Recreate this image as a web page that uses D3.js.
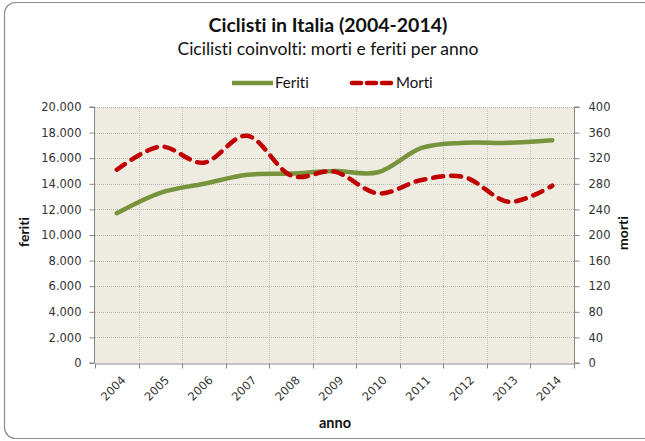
<!DOCTYPE html>
<html>
<head>
<meta charset="utf-8">
<script src="https://cdn.jsdelivr.net/npm/d3@7"></script>
<style>
  body { margin: 0; background: #fff; }
  svg { display: block; }
  text { font-variant-ligatures: none; font-feature-settings: "liga" 0; }
</style>
</head>
<body>
<div id="chart"></div>
<script>
// dati
var anni = ["2004", "2005", "2006", "2007", "2008", "2009", "2010", "2011", "2012", "2013", "2014"];
var feriti = [11700, 13300, 14000, 14700, 14800, 15000, 14900, 16800, 17200, 17200, 17400];
var morti = [302, 338, 313, 355, 293, 299, 265, 286, 290, 252, 277];
var ticksFeriti = [0, 2000, 4000, 6000, 8000, 10000, 12000, 14000, 16000, 18000, 20000];
var ticksMorti = [0, 40, 80, 120, 160, 200, 240, 280, 320, 360, 400];

var W = 645, H = 441;
var plot = { left: 95, right: 574, top: 107, bottom: 363 };

var svg = d3.select('#chart').append('svg')
  .attr('width', W)
  .attr('height', H);

// cornice del grafico
svg.append('rect')
  .attr('x', 4.5).attr('y', 2.5)
  .attr('width', 650).attr('height', 436)
  .attr('rx', 11)
  .attr('fill', '#fff')
  .attr('stroke', '#8c8c8c')
  .attr('stroke-width', 1.2);

var x = d3.scaleBand().domain(anni).range([plot.left, plot.right]);
var yF = d3.scaleLinear().domain([0, 20000]).range([plot.bottom, plot.top]);
var yM = d3.scaleLinear().domain([0, 400]).range([plot.bottom, plot.top]);

// sfondo area del grafico
svg.append('rect')
  .attr('x', plot.left).attr('y', plot.top)
  .attr('width', plot.right - plot.left)
  .attr('height', plot.bottom - plot.top)
  .attr('fill', '#eeece1');

var fmt = function (d) { return d3.format(',')(d).replace(/,/g, '.'); };

// griglia orizzontale
svg.append('g').selectAll('line')
  .data(ticksFeriti.slice(1))
  .join('line')
  .attr('x1', plot.left).attr('x2', plot.right)
  .attr('y1', function (d) { return Math.round(yF(d)) + 0.5; })
  .attr('y2', function (d) { return Math.round(yF(d)) + 0.5; })
  .attr('stroke', '#b8b8b8')
  .attr('stroke-dasharray', '1,1');

// griglia verticale
svg.append('g').selectAll('line')
  .data(anni.slice(1))
  .join('line')
  .attr('x1', function (d) { return Math.round(x(d)) + 0.5; })
  .attr('x2', function (d) { return Math.round(x(d)) + 0.5; })
  .attr('y1', plot.top).attr('y2', plot.bottom)
  .attr('stroke', '#c4c4c4')
  .attr('stroke-dasharray', '1,1');

// assi
var axL = svg.append('g')
  .attr('transform', 'translate(' + (plot.left - 0.5) + ',0)')
  .call(d3.axisLeft(yF).tickValues(ticksFeriti).tickFormat(fmt).tickSize(5).tickPadding(8));
var axR = svg.append('g')
  .attr('transform', 'translate(' + (plot.right + 0.5) + ',0)')
  .call(d3.axisRight(yM).tickValues(ticksMorti).tickSize(5).tickPadding(9));
var axB = svg.append('g')
  .attr('transform', 'translate(0,' + (plot.bottom + 0.5) + ')')
  .call(d3.axisBottom(x).tickSize(0).tickFormat(''));

// tacche tra le categorie
axB.selectAll('.cat').data(anni.concat(['fine']))
  .join('line')
  .attr('class', 'cat')
  .attr('x1', function (d, i) { return Math.round(plot.left + i * x.bandwidth()) + 0.5; })
  .attr('x2', function (d, i) { return Math.round(plot.left + i * x.bandwidth()) + 0.5; })
  .attr('y1', 0).attr('y2', 5)
  .attr('stroke', '#868686');

[axL, axR, axB].forEach(function (a) {
  a.select('.domain').attr('stroke', '#868686');
  a.selectAll('.tick line').attr('stroke', '#868686');
  a.selectAll('text')
    .attr('font-family', 'DejaVu Sans, Verdana, sans-serif')
    .attr('font-size', 11.5)
    .attr('fill', '#333');
});
axL.select('.domain').attr('d', 'M-5,' + plot.bottom + 'H0V' + plot.top + 'H-5');
axR.select('.domain').attr('d', 'M5,' + plot.bottom + 'H0V' + plot.top + 'H5');

// etichette anni ruotate
svg.append('g').selectAll('text')
  .data(anni)
  .join('text')
  .attr('transform', function (d) {
    return 'translate(' + (x(d) + x.bandwidth() / 2 + 4) + ',' + (plot.bottom + 12) + ') rotate(-45)';
  })
  .attr('text-anchor', 'end')
  .attr('dy', '0.7em')
  .attr('font-family', 'DejaVu Sans, Verdana, sans-serif')
  .attr('font-size', 11.5)
  .attr('fill', '#333')
  .text(function (d) { return d; });

// linee
var lineF = d3.line()
  .x(function (d, i) { return x(anni[i]) + x.bandwidth() / 2; })
  .y(function (d) { return yF(d); })
  .curve(d3.curveCatmullRom.alpha(0));
var lineM = d3.line()
  .x(function (d, i) { return x(anni[i]) + x.bandwidth() / 2; })
  .y(function (d) { return yM(d); })
  .curve(d3.curveCatmullRom.alpha(0));

svg.append('path')
  .datum(feriti)
  .attr('d', lineF)
  .attr('fill', 'none')
  .attr('stroke', '#77933c')
  .attr('stroke-width', 4.5)
  .attr('stroke-linecap', 'round');

svg.append('path')
  .datum(morti)
  .attr('d', lineM)
  .attr('fill', 'none')
  .attr('stroke', '#c00000')
  .attr('stroke-width', 4.5)
  .attr('stroke-dasharray', '10,8')
  .attr('stroke-linecap', 'round');

// titoli
svg.append('text')
  .attr('x', 328).attr('y', 32)
  .attr('text-anchor', 'middle')
  .attr('font-family', 'Lato, sans-serif')
  .attr('font-weight', 'bold')
  .attr('font-size', 19.5)
  .attr('fill', '#111')
  .text('Ciclisti in Italia (2004-2014)');

svg.append('text')
  .attr('x', 328).attr('y', 55)
  .attr('text-anchor', 'middle')
  .attr('font-family', 'Lato, sans-serif')
  .attr('font-size', 17.5)
  .attr('fill', '#111')
  .text('Cicilisti coinvolti: morti e feriti per anno');

// legenda
var legenda = svg.append('g');
legenda.append('line')
  .attr('x1', 232).attr('x2', 273).attr('y1', 83).attr('y2', 83)
  .attr('stroke', '#77933c').attr('stroke-width', 4.5);
legenda.append('text')
  .attr('x', 275).attr('y', 88)
  .attr('font-family', 'Lato, sans-serif').attr('font-size', 15).attr('fill', '#111')
  .text('Feriti');
legenda.append('line')
  .attr('x1', 352).attr('x2', 394).attr('y1', 83).attr('y2', 83)
  .attr('stroke', '#c00000').attr('stroke-width', 4.5)
  .attr('stroke-dasharray', '9,6').attr('stroke-linecap', 'round');
legenda.append('text')
  .attr('x', 396).attr('y', 88)
  .attr('font-family', 'Lato, sans-serif').attr('font-size', 15).attr('fill', '#111')
  .text('Morti');

// titoli degli assi
svg.append('text')
  .attr('transform', 'translate(29,232) rotate(-90)')
  .attr('text-anchor', 'middle')
  .attr('font-family', 'Lato, sans-serif').attr('font-weight', 'bold')
  .attr('font-size', 14).attr('fill', '#111')
  .text('feriti');
svg.append('text')
  .attr('transform', 'translate(628,233) rotate(-90)')
  .attr('text-anchor', 'middle')
  .attr('font-family', 'Lato, sans-serif').attr('font-weight', 'bold')
  .attr('font-size', 14).attr('fill', '#111')
  .text('morti');
svg.append('text')
  .attr('x', 335).attr('y', 428)
  .attr('text-anchor', 'middle')
  .attr('font-family', 'Lato, sans-serif').attr('font-weight', 'bold')
  .attr('font-size', 14.5).attr('fill', '#111')
  .text('anno');
</script>
</body>
</html>
